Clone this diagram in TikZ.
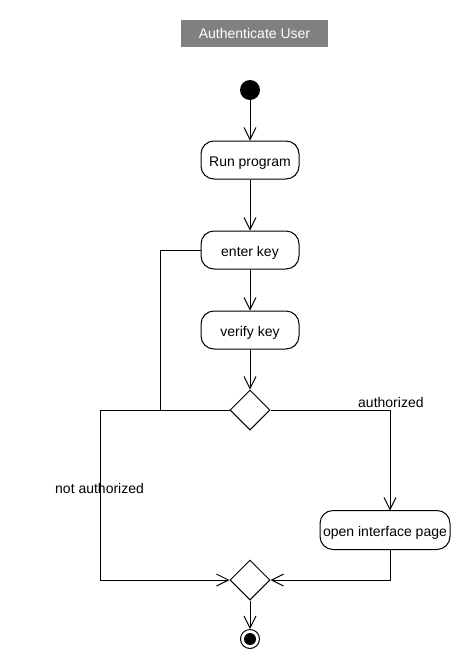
\documentclass[tikz,border=0pt]{standalone}
\usepackage{fontspec}
\setmainfont{Liberation Sans}
\usetikzlibrary{arrows.meta,shapes.geometric}
\begin{document}
\begin{tikzpicture}[x=1pt,y=-1pt,
  every node/.style={font=\fontsize{14}{16}\selectfont},
  action/.style={draw,line width=1pt,rounded corners=13pt,minimum width=98pt,minimum height=38pt,inner sep=1pt,text height=13pt,text depth=0pt},
  decision/.style={draw,line width=1pt,diamond,aspect=1,minimum width=40pt,minimum height=40pt,inner sep=0pt},
  flow/.style={line width=1pt,-{Straight Barb[length=12pt,width=12pt,line width=1pt]}},
  plain/.style={line width=1pt}]
\useasboundingbox[fill=white] (0,0) rectangle (470,670);
% title
\node[fill=black!50,text=white,minimum width=147pt,minimum height=27pt,inner sep=0pt] (title) at (254.5,33.5) {Authenticate User};
% nodes
\node[circle,fill=black,minimum size=20pt,inner sep=0pt] (start) at (250,90) {};
\node[action] (run) at (250,160) {Run program};
\node[action] (enter) at (250,250) {enter key};
\node[action] (verify) at (250,330) {verify key};
\node[decision] (d1) at (250,410) {};
\node[action,minimum width=130pt,minimum height=39pt] (open) at (385,530) {open interface page};
\node[decision] (d2) at (250,580) {};
\node[circle,draw,line width=1pt,minimum size=19pt,inner sep=0pt] (end) at (250,639) {};
\node[circle,fill=black,minimum size=12pt,inner sep=0pt] at (end.center) {};
% connectors
\draw[flow] (start) -- (run);
\draw[flow] (run) -- (enter);
\draw[flow] (enter) -- (verify);
\draw[flow] (verify) -- (d1);
\coordinate (loop) at (160,410);
\draw[plain] (enter.west) -| (loop);
\draw[flow] (d1.west) -- (100,410) -- (100,580) -- (d2.west);
\draw[flow] (d1.east) -- (390,410) -- (390,510.5);
\draw[flow] (390,549.5) -- (390,580) -- (d2.east);
\draw[flow] (d2) -- (end);
% labels
\node[anchor=base west,inner sep=0pt] (lauth) at (358,407) {authorized};
\node[anchor=base west,inner sep=0pt] (lnot) at (55,493) {not authorized};
\end{tikzpicture}
\end{document}
